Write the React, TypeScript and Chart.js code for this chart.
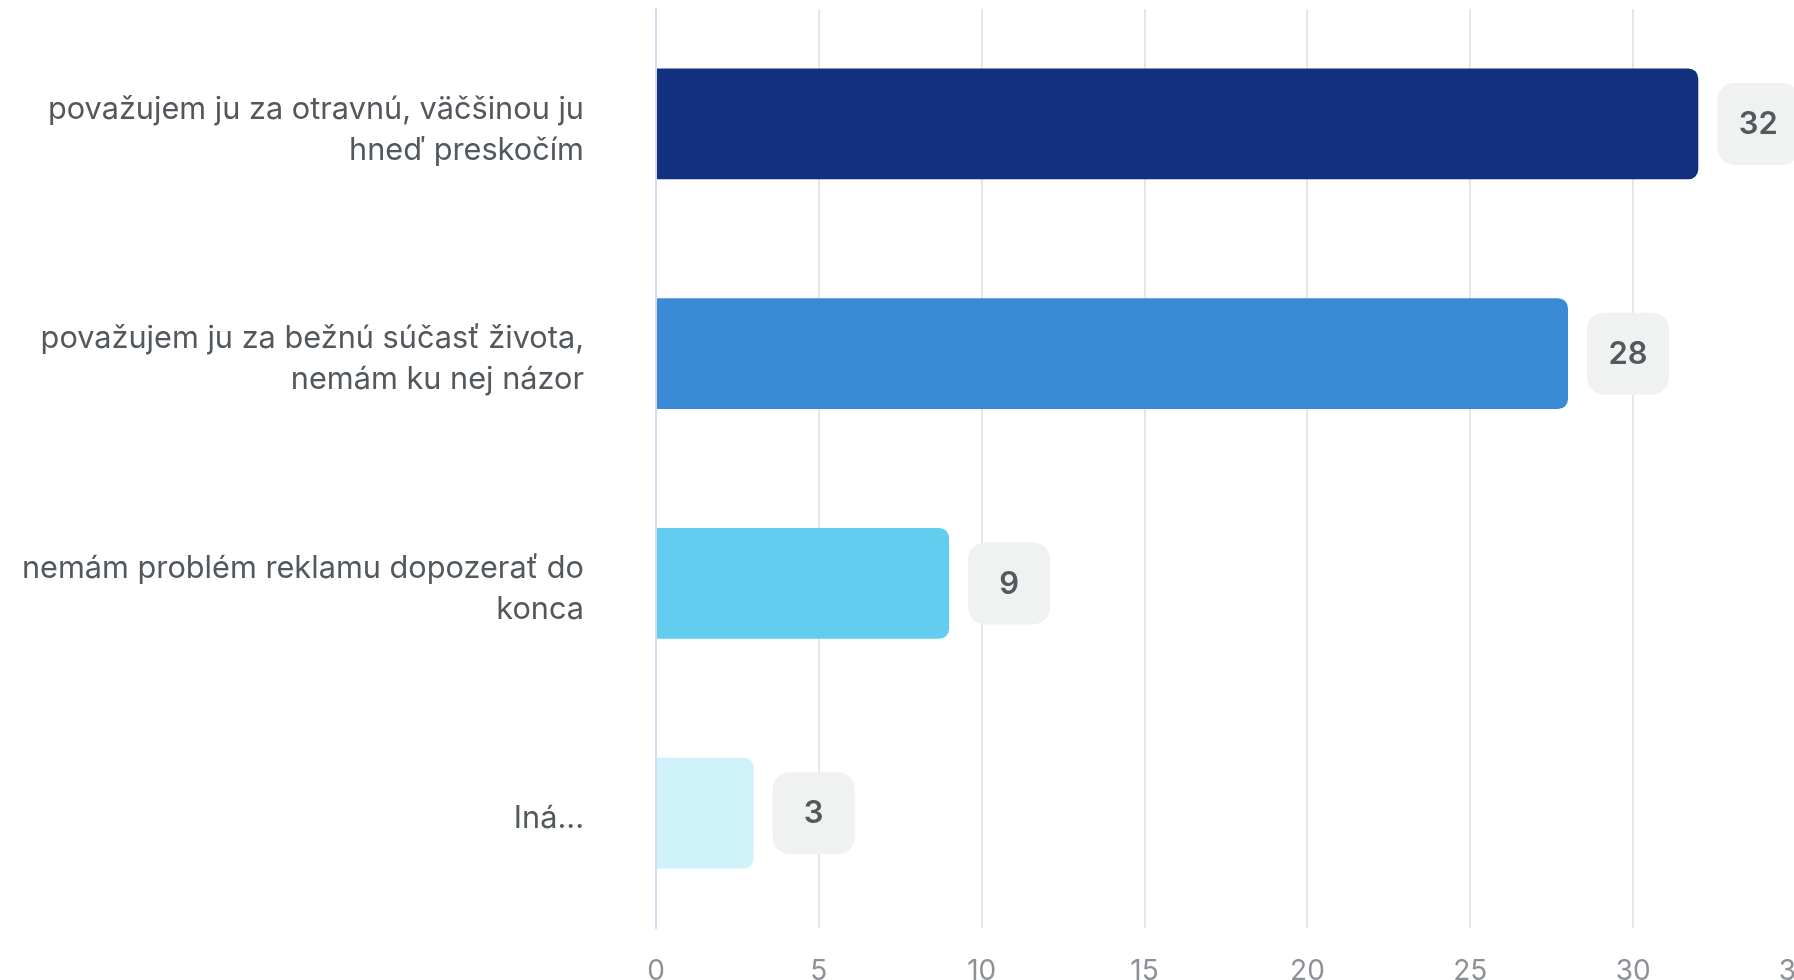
import React, { useEffect, useRef } from "react";
import { Chart, registerables } from "chart.js";

Chart.register(...registerables);

const categories: string[][] = [
  ["považujem ju za otravnú, väčšinou ju", "hneď preskočím"],
  ["považujem ju za bežnú súčasť života,", "nemám ku nej názor"],
  ["nemám problém reklamu dopozerať do", "konca"],
  ["Iná..."],
];
const values: number[] = [32, 28, 9, 3];
const barColors: string[] = ["#122f80", "#3a8ad6", "#62cdef", "#cff1f9"];
const xMax = 35;
const xStep = 5;

const CANVAS_W = 1830;
const CANVAS_H = 1010;

const valueBoxPlugin = {
  id: "valueBoxes",
  afterDatasetsDraw(chart: any) {
    const ctx = chart.ctx;
    const meta = chart.getDatasetMeta(0);
    meta.data.forEach((bar: any, i: number) => {
      const gap = 19;
      const w = 82;
      const h = 82;
      const r = 17;
      const x0 = bar.x + gap;
      const y0 = bar.y - h / 2;
      ctx.save();
      ctx.fillStyle = "#f0f1f1";
      ctx.beginPath();
      (ctx as any).roundRect(x0, y0, w, h, r);
      ctx.fill();
      ctx.fillStyle = "#54595e";
      ctx.font = "600 31px Inter";
      ctx.textAlign = "center";
      ctx.textBaseline = "middle";
      ctx.fillText(String(values[i]), x0 + w / 2, bar.y + 1);
      ctx.restore();
    });
  },
};

export default function App() {
  const ref = useRef<HTMLCanvasElement | null>(null);
  useEffect(() => {
    if (!ref.current) return;
    const chart = new Chart(ref.current, {
      type: "bar",
      data: {
        labels: categories as any,
        datasets: [
          {
            data: values,
            backgroundColor: barColors,
            borderRadius: 10,
            borderSkipped: "start",
            categoryPercentage: 1,
            barPercentage: 0.483,
          },
        ],
      },
      options: {
        indexAxis: "y",
        animation: false,
        responsive: false,
        maintainAspectRatio: false,
        layout: { padding: { top: 9, right: 34, left: 0, bottom: 0 } },
        plugins: {
          legend: { display: false },
          tooltip: { enabled: false },
        },
        scales: {
          x: {
            min: 0,
            max: xMax,
            ticks: {
              stepSize: xStep,
              padding: 27,
              color: "#8d9196",
              font: { family: "Inter", size: 28 },
            },
            grid: {
              drawTicks: false,
              lineWidth: 2,
              color: (c: any) => (c.tick && c.tick.value === 0 ? "rgba(0,0,0,0)" : "#e6e6e6"),
            },
            border: { display: false },
            afterFit(scale: any) {
              scale.height = CANVAS_H - 928;
              scale.paddingLeft = 0;
              scale.paddingRight = 0;
            },
          },
          y: {
            ticks: {
              padding: 72,
              labelOffset: 6,
              color: "#53585d",
              font: { family: "Inter", size: 30.7, lineHeight: 1.34 },
            },
            grid: { display: false, drawTicks: false },
            border: { display: true, color: "#d5dcef", width: 2 },
            afterFit(scale: any) {
              scale.width = 656;
              scale.paddingTop = 0;
              scale.paddingBottom = 0;
            },
          },
        },
      },
      plugins: [valueBoxPlugin],
    });
    return () => chart.destroy();
  }, []);

  return (
    <div
      style={{
        position: "fixed",
        left: 0,
        top: 0,
        width: 1794,
        height: 980,
        overflow: "hidden",
        background: "#ffffff",
      }}
    >
      <canvas
        ref={ref}
        width={CANVAS_W}
        height={CANVAS_H}
        style={{ width: CANVAS_W, height: CANVAS_H, display: "block" }}
      />
    </div>
  );
}
